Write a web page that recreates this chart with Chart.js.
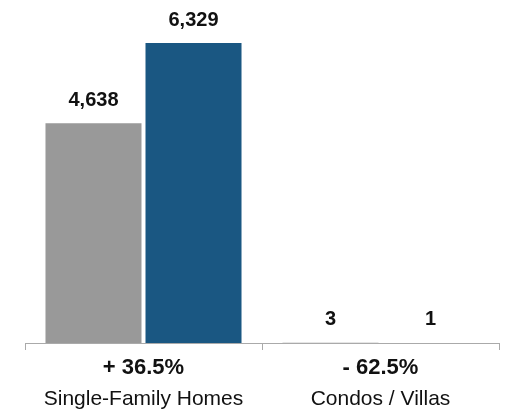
<!DOCTYPE html>
<html>
<head>
<meta charset="utf-8">
<script src="https://cdn.jsdelivr.net/npm/chart.js"></script>
<style>
  html, body { margin: 0; padding: 0; background: #fff; }
  #chart { display: block; }
</style>
</head>
<body>
<canvas id="chart" width="505" height="414"></canvas>
<script>
const categories = ["Single-Family Homes", "Condos / Villas"];
const previousYear = [4638, 3];
const currentYear = [6329, 1];
const changeLabels = ["+ 36.5%", "- 62.5%"];

const FONT = "'Liberation Sans', Arial, Helvetica, sans-serif";

// valeurs au-dessus des barres + variations sous l'axe
const labelPlugin = {
    id: 'labels',
    afterDatasetsDraw(chart) {
        const ctx = chart.ctx;
        ctx.save();
        ctx.fillStyle = '#111';
        ctx.textAlign = 'center';
        ctx.textBaseline = 'middle';
        ctx.font = 'bold 20px ' + FONT;
        chart.data.datasets.forEach((ds, i) => {
            chart.getDatasetMeta(i).data.forEach((bar, j) => {
                ctx.fillText(ds.data[j].toLocaleString('en-US'), bar.x, bar.y - 23);
            });
        });
        const xs = chart.scales.x;
        ctx.font = 'bold 22px ' + FONT;
        changeLabels.forEach((txt, j) => {
            ctx.fillText(txt, xs.getPixelForValue(j), chart.chartArea.bottom + 25);
        });
        ctx.restore();
    }
};

new Chart(document.getElementById('chart').getContext('2d'), {
    type: 'bar',
    data: {
        labels: categories,
        datasets: [
            { label: 'Previous', data: previousYear, backgroundColor: '#999999' },
            { label: 'Current', data: currentYear, backgroundColor: '#1A5782' }
        ]
    },
    options: {
        responsive: false,
        animation: false,
        devicePixelRatio: 1,
        categoryPercentage: 0.844,
        barPercentage: 0.96,
        layout: { padding: { left: 25, right: 6, top: 0, bottom: 4 } },
        plugins: {
            legend: { display: false },
            tooltip: { enabled: false }
        },
        scales: {
            x: {
                afterFit(scale) { scale.height = 67; },
                grid: { display: true, drawOnChartArea: false, offset: true, tickLength: 7, color: '#aaa' },
                border: { display: true, color: '#aaa' },
                ticks: { color: '#111', padding: 37, font: { family: FONT, size: 21 } }
            },
            y: {
                display: false,
                min: 0,
                max: 7236
            }
        }
    },
    plugins: [labelPlugin]
});
</script>
</body>
</html>
